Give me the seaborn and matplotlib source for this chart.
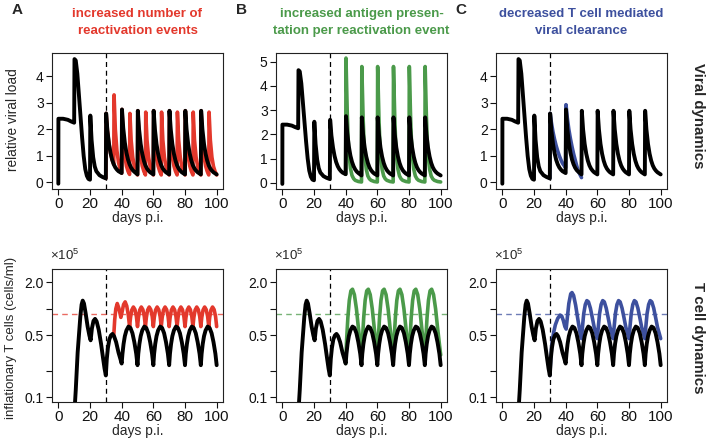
import matplotlib
matplotlib.use("Agg")
import matplotlib.pyplot as plt
from matplotlib.ticker import NullLocator
import seaborn as sns

# ---- viral load, baseline (black, same in all panels) ----
vl_base_day = [0, 0.05, 3, 6, 8, 10, 10.2, 11, 12, 13, 14, 15, 16, 17, 18, 19, 20,
               20.2, 21, 22, 23, 24, 26, 28, 30,
               30.2, 31, 32, 33, 34, 35, 36, 37, 38, 40,
               40.2, 41, 42, 43, 44, 45, 46, 47, 48, 50,
               50.2, 51, 52, 53, 54, 55, 56, 57, 58, 60,
               60.2, 61, 62, 63, 64, 65, 66, 67, 68, 70,
               70.2, 71, 72, 73, 74, 75, 76, 77, 78, 80,
               80.2, 81, 82, 83, 84, 85, 86, 87, 88, 90,
               90.2, 91, 92, 93, 94, 95, 96, 97, 98, 100]
vl_base = [-0.05, 2.4, 2.4, 2.36, 2.3, 2.25, 4.65, 4.6, 4.1, 3.3, 2.5, 1.7, 1.0, 0.5, 0.25, 0.13, 0.1,
           2.52, 1.6, 0.95, 0.6, 0.42, 0.27, 0.2, 0.15,
           2.6, 1.95, 1.45, 1.1, 0.85, 0.68, 0.56, 0.48, 0.42, 0.35,
           2.75, 2.05, 1.5, 1.12, 0.86, 0.68, 0.55, 0.46, 0.4, 0.3,
           2.7, 2.0, 1.45, 1.08, 0.82, 0.64, 0.52, 0.44, 0.38, 0.3,
           2.7, 2.0, 1.45, 1.08, 0.82, 0.64, 0.52, 0.44, 0.38, 0.3,
           2.7, 2.0, 1.45, 1.08, 0.82, 0.64, 0.52, 0.44, 0.38, 0.3,
           2.7, 2.0, 1.45, 1.08, 0.82, 0.64, 0.52, 0.44, 0.38, 0.3,
           2.7, 2.0, 1.45, 1.08, 0.82, 0.64, 0.52, 0.44, 0.38, 0.3]

# ---- A: more reactivation events (red) ----
vl_a_day = [30, 30.2, 31, 32, 33, 34, 35,
            35.2, 36, 37, 38, 39, 40,
            40.2, 41, 42, 43, 44, 45,
            45.2, 46, 47, 48, 49, 50,
            50.2, 51, 52, 53, 54, 55,
            55.2, 56, 57, 58, 59, 60,
            60.2, 61, 62, 63, 64, 65,
            65.2, 66, 67, 68, 69, 70,
            70.2, 71, 72, 73, 74, 75,
            75.2, 76, 77, 78, 79, 80,
            80.2, 81, 82, 83, 84, 85,
            85.2, 86, 87, 88, 89, 90,
            90.2, 91, 92, 93, 94, 95,
            95.2, 96, 97, 98, 99, 100]
vl_a = [0.15, 2.6, 1.95, 1.45, 1.1, 0.85, 0.68,
        3.3, 2.0, 1.2, 0.75, 0.5, 0.35,
        2.75, 1.65, 1.0, 0.62, 0.42, 0.3,
        2.6, 1.58, 0.95, 0.6, 0.4, 0.28,
        2.7, 1.62, 0.97, 0.62, 0.42, 0.28,
        2.65, 1.6, 0.95, 0.6, 0.41, 0.28,
        2.7, 1.62, 0.97, 0.62, 0.42, 0.28,
        2.65, 1.6, 0.95, 0.6, 0.41, 0.28,
        2.7, 1.62, 0.97, 0.62, 0.42, 0.28,
        2.65, 1.6, 0.95, 0.6, 0.41, 0.28,
        2.7, 1.62, 0.97, 0.62, 0.42, 0.28,
        2.65, 1.6, 0.95, 0.6, 0.41, 0.28,
        2.7, 1.62, 0.97, 0.62, 0.42, 0.28,
        2.65, 1.6, 0.95, 0.6, 0.41, 0.28]

# ---- B: more antigen per event (green) ----
vl_b_day = [40,
            40.2, 40.6, 41, 41.5, 42, 43, 44, 45, 46, 48, 50,
            50.2, 50.6, 51, 51.5, 52, 53, 54, 55, 56, 58, 60,
            60.2, 60.6, 61, 61.5, 62, 63, 64, 65, 66, 68, 70,
            70.2, 70.6, 71, 71.5, 72, 73, 74, 75, 76, 78, 80,
            80.2, 80.6, 81, 81.5, 82, 83, 84, 85, 86, 88, 90,
            90.2, 90.6, 91, 91.5, 92, 93, 94, 95, 96, 98, 100]
vl_b = [0.35,
        5.15, 4.0, 2.9, 1.9, 1.25, 0.6, 0.3, 0.17, 0.1, 0.05, 0.03,
        4.8, 3.75, 2.7, 1.8, 1.17, 0.56, 0.28, 0.16, 0.1, 0.05, 0.03,
        4.8, 3.75, 2.7, 1.8, 1.17, 0.56, 0.28, 0.16, 0.1, 0.05, 0.03,
        4.8, 3.75, 2.7, 1.8, 1.17, 0.56, 0.28, 0.16, 0.1, 0.05, 0.03,
        4.8, 3.75, 2.7, 1.8, 1.17, 0.56, 0.28, 0.16, 0.1, 0.05, 0.03,
        4.8, 3.75, 2.7, 1.8, 1.17, 0.56, 0.28, 0.16, 0.1, 0.05, 0.03]

# ---- C: less T cell clearance (blue) ----
vl_c_day = [30, 30.2, 31, 32, 33, 34, 35, 36, 37, 38, 40,
            40.2, 41, 42, 43, 44, 45, 46, 47, 48, 50]
vl_c = [0.15, 2.6, 2.25, 1.9, 1.62, 1.38, 1.18, 1.0, 0.85, 0.72, 0.55,
        2.93, 2.45, 2.0, 1.65, 1.35, 1.08, 0.85, 0.62, 0.42, 0.18]

# ---- inflationary T cells (x1e5 cells/ml), baseline ----
tc_base_day = [10, 11, 12.2, 13.9, 14.7, 15.4, 16.2, 17.2, 18.5, 19.6, 20.4, 21.2, 22.2, 23.2,
               24.2, 25.5, 27, 28.2, 29.2, 30,
               30.6, 31.3, 32.2, 33.2, 34.2, 35.2, 36.5, 38, 39.2, 40,
               40.5, 41.2, 42, 43, 44.3, 45.5, 46.8, 48, 49.2, 50,
               50.5, 51.2, 52, 53, 54.3, 55.5, 56.8, 58, 59.2, 60,
               60.5, 61.2, 62, 63, 64.3, 65.5, 66.8, 68, 69.2, 70,
               70.5, 71.2, 72, 73, 74.3, 75.5, 76.8, 78, 79.2, 80,
               80.5, 81.2, 82, 83, 84.3, 85.5, 86.8, 88, 89.2, 90,
               90.5, 91.2, 92, 93, 94.3, 95.5, 96.8, 98, 99.2, 100]
tc_base = [0.06, 0.12, 0.32, 0.82, 1.12, 1.24, 1.15, 0.9, 0.63, 0.5, 0.44, 0.6, 0.73, 0.77,
           0.72, 0.58, 0.4, 0.28, 0.21, 0.176,
           0.27, 0.36, 0.45, 0.5, 0.52, 0.49, 0.42, 0.32, 0.27, 0.24,
           0.31, 0.4, 0.49, 0.57, 0.63, 0.61, 0.53, 0.42, 0.31, 0.23,
           0.31, 0.4, 0.49, 0.57, 0.63, 0.61, 0.53, 0.42, 0.31, 0.23,
           0.31, 0.4, 0.49, 0.57, 0.63, 0.61, 0.53, 0.42, 0.31, 0.23,
           0.31, 0.4, 0.49, 0.57, 0.63, 0.61, 0.53, 0.42, 0.31, 0.23,
           0.31, 0.4, 0.49, 0.57, 0.63, 0.61, 0.53, 0.42, 0.31, 0.23,
           0.31, 0.4, 0.49, 0.57, 0.63, 0.61, 0.53, 0.42, 0.31, 0.23]

tc_a_day = [35, 35.6, 36.3, 37.2, 38.2, 39.5, 40.3, 41.2, 42.2, 43.2, 44.2, 45,
            45.6, 46.4, 47.4, 48.4, 49.3, 50,
            50.6, 51.4, 52.4, 53.4, 54.3, 55,
            55.6, 56.4, 57.4, 58.4, 59.3, 60,
            60.6, 61.4, 62.4, 63.4, 64.3, 65,
            65.6, 66.4, 67.4, 68.4, 69.3, 70,
            70.6, 71.4, 72.4, 73.4, 74.3, 75,
            75.6, 76.4, 77.4, 78.4, 79.3, 80,
            80.6, 81.4, 82.4, 83.4, 84.3, 85,
            85.6, 86.4, 87.4, 88.4, 89.3, 90,
            90.6, 91.4, 92.4, 93.4, 94.3, 95,
            95.6, 96.4, 97.4, 98.4, 99.3, 100]
tc_a = [0.5, 0.75, 1.0, 1.15, 1.02, 0.8, 0.93, 1.12, 1.2, 1.08, 0.85, 0.63,
        0.8, 0.97, 1.05, 0.98, 0.82, 0.63,
        0.8, 0.97, 1.05, 0.98, 0.82, 0.63,
        0.8, 0.97, 1.05, 0.98, 0.82, 0.63,
        0.8, 0.97, 1.05, 0.98, 0.82, 0.63,
        0.8, 0.97, 1.05, 0.98, 0.82, 0.63,
        0.8, 0.97, 1.05, 0.98, 0.82, 0.63,
        0.8, 0.97, 1.05, 0.98, 0.82, 0.63,
        0.8, 0.97, 1.05, 0.98, 0.82, 0.63,
        0.8, 0.97, 1.05, 0.98, 0.82, 0.63,
        0.8, 0.97, 1.05, 0.98, 0.82, 0.63,
        0.8, 0.97, 1.05, 0.98, 0.82, 0.63]

tc_b_day = [40,
            40.6, 41.4, 42.3, 43.3, 44.3, 45.5, 46.8, 48, 49.2, 50,
            50.6, 51.4, 52.3, 53.3, 54.3, 55.5, 56.8, 58, 59.2, 60,
            60.6, 61.4, 62.3, 63.3, 64.3, 65.5, 66.8, 68, 69.2, 70,
            70.6, 71.4, 72.3, 73.3, 74.3, 75.5, 76.8, 78, 79.2, 80,
            80.6, 81.4, 82.3, 83.3, 84.3, 85.5, 86.8, 88, 89.2, 90,
            90.6, 91.4, 92.3, 93.3, 94.3, 95.5, 96.8, 98, 99.2, 100]
tc_b = [0.24,
        0.45, 0.8, 1.25, 1.6, 1.67, 1.45, 1.0, 0.62, 0.4, 0.3,
        0.45, 0.8, 1.25, 1.6, 1.67, 1.45, 1.0, 0.62, 0.4, 0.3,
        0.45, 0.8, 1.25, 1.6, 1.67, 1.45, 1.0, 0.62, 0.4, 0.3,
        0.45, 0.8, 1.25, 1.6, 1.67, 1.45, 1.0, 0.62, 0.4, 0.3,
        0.45, 0.8, 1.25, 1.6, 1.67, 1.45, 1.0, 0.62, 0.4, 0.3,
        0.45, 0.8, 1.25, 1.6, 1.67, 1.45, 1.0, 0.62, 0.4, 0.3]

tc_c_day = [30, 30.6, 31.3, 32.3, 33.5, 35, 36.5, 37.5, 38.5, 39.5, 40.3, 41, 42, 43.2, 44,
            45, 46.3, 47.7, 49, 50,
            50.6, 51.4, 52.4, 53.4, 54.4, 55.6, 56.8, 58, 59.2, 60,
            60.6, 61.4, 62.4, 63.4, 64.4, 65.6, 66.8, 68, 69.2, 70,
            70.6, 71.4, 72.4, 73.4, 74.4, 75.6, 76.8, 78, 79.2, 80,
            80.6, 81.4, 82.4, 83.4, 84.4, 85.6, 86.8, 88, 89.2, 90,
            90.6, 91.4, 92.4, 93.4, 94.4, 95.6, 96.8, 98, 99.2, 100]
tc_c = [0.176, 0.28, 0.4, 0.53, 0.66, 0.78, 0.85, 0.83, 0.74, 0.63, 0.59, 0.78, 1.15, 1.48, 1.53,
        1.42, 1.1, 0.76, 0.55, 0.46,
        0.62, 0.88, 1.12, 1.24, 1.2, 1.02, 0.8, 0.62, 0.52, 0.46,
        0.62, 0.88, 1.12, 1.24, 1.2, 1.02, 0.8, 0.62, 0.52, 0.46,
        0.62, 0.88, 1.12, 1.24, 1.2, 1.02, 0.8, 0.62, 0.52, 0.46,
        0.62, 0.88, 1.12, 1.24, 1.2, 1.02, 0.8, 0.62, 0.52, 0.46,
        0.62, 0.88, 1.12, 1.24, 1.2, 1.02, 0.8, 0.62, 0.52, 0.46]

tc_setpoint = 0.88
x_ticks = [0, 20, 40, 60, 80, 100]

RED = "#e3382c"
GREEN = "#4b9a4a"
BLUE = "#3d509e"

panels = [
    ("A", ["increased number of", "reactivation events"], RED, vl_a_day, vl_a, tc_a_day, tc_a, [0, 1, 2, 3, 4], (-0.25, 4.88)),
    ("B", ["increased antigen presen-", "tation per reactivation event"], GREEN, vl_b_day, vl_b, tc_b_day, tc_b, [0, 1, 2, 3, 4, 5], (-0.26, 5.36)),
    ("C", ["decreased T cell mediated", "viral clearance"], BLUE, vl_c_day, vl_c, tc_c_day, tc_c, [0, 1, 2, 3, 4], (-0.25, 4.88)),
]

sns.set_style("ticks")
plt.rcParams['font.family'] = ['Liberation Sans', 'DejaVu Sans']
plt.rcParams['mathtext.fontset'] = 'custom'
plt.rcParams['mathtext.rm'] = 'Liberation Sans'

W, H = 709, 447
fig = plt.figure(figsize=(W / 100, H / 100), dpi=100)


def fx(x):
    return x / W


def fy(y):
    return 1 - y / H


def px_axes(left, top, right, bottom):
    return fig.add_axes([fx(left), fy(bottom), (right - left) / W, (bottom - top) / H])


def style(ax):
    for s in ax.spines.values():
        s.set_linewidth(0.8)
        s.set_color("#222222")
    ax.tick_params(direction="out", length=4, width=0.8, pad=2, colors="#111111")
    ax.tick_params(axis="x", labelsize=11)
    ax.tick_params(axis="y", labelsize=10)
    ax.set_xlim(-4, 104)
    ax.set_xticks(x_ticks)
    ax.set_xlabel("days p.i.", fontsize=10, labelpad=0)


def curve(ax, x, y, color, lw=2.8, z=3):
    sns.lineplot(x=x, y=y, ax=ax, color=color, lw=lw, estimator=None, sort=False,
                 legend=False, zorder=z, solid_joinstyle="round", solid_capstyle="round")


lefts = [52, 276, 496]
for (letter, title, col, vd, vv, td, tv, yt, ylim), left in zip(panels, lefts):
    right = left + 171

    # viral dynamics
    ax = px_axes(left, 53, right, 189)
    style(ax)
    ax.axvline(30, color="black", lw=0.9, ls=(0, (4, 3)), zorder=1)
    curve(ax, vd, vv, col, lw=2.6, z=2)
    curve(ax, vl_base_day, vl_base, "black")
    ax.set_ylim(*ylim)
    ax.set_yticks(yt)

    # T cell dynamics
    bx = px_axes(left, 269, right, 402)
    style(bx)
    bx.set_yscale("log")
    bx.axvline(30, color="black", lw=0.9, ls=(0, (4, 3)), zorder=1)
    bx.axhline(tc_setpoint, color=col, lw=1.0, ls=(0, (4, 3)), alpha=0.75, zorder=1)
    curve(bx, td, tv, col, lw=2.6, z=2)
    curve(bx, tc_base_day, tc_base, "black")
    bx.set_ylim(0.088, 2.83)
    bx.set_yticks([0.1, 0.2, 0.5, 1.0, 2.0])
    bx.set_yticklabels(["0.1", "", "0.5", "", "2.0"])
    bx.yaxis.set_minor_locator(NullLocator())
    fig.text(fx(left - 2), fy(255), r"×10$^{5}$", fontsize=9.5, ha="left", va="center")

    # panel letter and coloured title
    fig.text(fx(left - 35), fy(10), letter, fontsize=11, weight="bold", ha="center", va="center")
    cx = (left + right) / 2
    fig.text(fx(cx), fy(14), title[0], fontsize=9.5, weight="bold", color=col, ha="center", va="center")
    fig.text(fx(cx), fy(31), title[1], fontsize=9.5, weight="bold", color=col, ha="center", va="center")

fig.text(fx(13), fy(120), "relative viral load", rotation=90, fontsize=9.8, ha="center", va="center")
fig.text(fx(11), fy(338), "inflationary T cells (cells/ml)", rotation=90, fontsize=9.5, ha="center", va="center")
fig.text(fx(698), fy(116), "Viral dynamics", rotation=270, fontsize=10.8, weight="bold", ha="center", va="center")
fig.text(fx(698), fy(338), "T cell dynamics", rotation=270, fontsize=10.8, weight="bold", ha="center", va="center")

fig.savefig("out.png", dpi=100)
